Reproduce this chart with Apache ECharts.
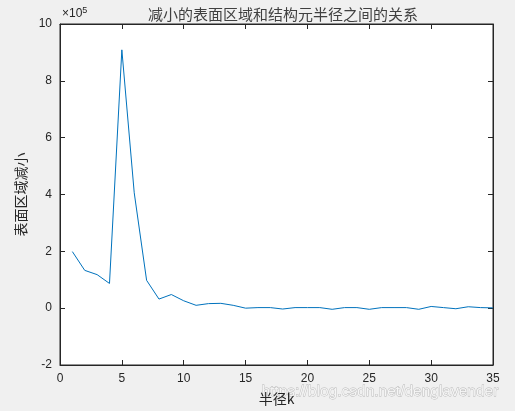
<!DOCTYPE html>
<html>
<head>
<meta charset="utf-8">
<script src="https://cdn.jsdelivr.net/npm/echarts@6/dist/echarts.min.js"></script>
<style>
  html, body { margin: 0; padding: 0; background: #f0f0f0; }
  #chart { width: 515px; height: 411px; }
</style>
</head>
<body>
<div id="chart"></div>
<script>
// 半径 k
var radius = [1, 2, 3, 4, 5, 6, 7, 8, 9, 10, 11, 12, 13, 14, 15, 16, 17, 18,
  19, 20, 21, 22, 23, 24, 25, 26, 27, 28, 29, 30, 31, 32, 33, 34, 35];
// 表面区域减小
var reduced = [199000, 133000, 118000, 87000, 909000, 406000, 98000, 32000, 48000, 26000,
  10000, 16000, 17000, 10000, 0, 2000, 2000, -3000, 2000, 2000,
  2000, -4000, 2000, 2000, -4000, 2000, 2000, 2000, -4000, 6000,
  2000, -2000, 5000, 2000, 1000];

var chart = echarts.init(document.getElementById('chart'));

var tickStyle = { color: '#262626', width: 1 };
var labelStyle = { color: '#262626', fontSize: 12, fontFamily: 'Liberation Sans, Arial, sans-serif' };

var option = {
  backgroundColor: '#f0f0f0',
  animation: false,
  title: {
    text: '减小的表面区域和结构元半径之间的关系',
    left: 143,
    top: 2,
    textStyle: { color: '#404040', fontSize: 15, fontWeight: 'normal', fontFamily: 'Noto Sans CJK SC' }
  },
  grid: { left: 60, right: 22, top: 24, bottom: 45, backgroundColor: '#fff', show: true,
    borderWidth: 1, borderColor: '#262626' },
  xAxis: [{
    type: 'value',
    min: 0, max: 35, interval: 5,
    name: '半径k',
    nameLocation: 'middle',
    nameGap: 27,
    nameTextStyle: { color: '#262626', fontSize: 14, fontFamily: 'Noto Sans CJK SC' },
    axisLine: { show: true, onZero: false, lineStyle: tickStyle },
    axisTick: { inside: true, length: 5, lineStyle: tickStyle },
    axisLabel: labelStyle,
    splitLine: { show: false }
  }, {
    type: 'value',
    position: 'top',
    min: 0, max: 35, interval: 5,
    axisLine: { show: true, onZero: false, lineStyle: tickStyle },
    axisTick: { inside: true, length: 5, lineStyle: tickStyle },
    axisLabel: { show: false },
    splitLine: { show: false }
  }],
  yAxis: [{
    type: 'value',
    min: -200000, max: 1000000, interval: 200000,
    name: '表面区域减小',
    nameLocation: 'middle',
    nameGap: 23,
    nameTextStyle: { color: '#262626', fontSize: 14, fontFamily: 'Noto Sans CJK SC' },
    axisLine: { show: true, onZero: false, lineStyle: tickStyle },
    axisTick: { show: true, inside: true, length: 5, lineStyle: tickStyle },
    axisLabel: Object.assign({
      margin: 8,
      formatter: function (v) { return String(Math.round(v / 100000)); }
    }, labelStyle),
    splitLine: { show: false }
  }, {
    type: 'value',
    position: 'right',
    min: -200000, max: 1000000, interval: 200000,
    axisLine: { show: true, onZero: false, lineStyle: tickStyle },
    axisTick: { show: true, inside: true, length: 5, lineStyle: tickStyle },
    axisLabel: { show: false },
    splitLine: { show: false }
  }],
  graphic: [{
    type: 'text',
    left: 62, top: 6,
    style: {
      text: '×10{s|5}',
      fill: '#262626',
      font: '12px Liberation Sans, Arial, sans-serif',
      rich: { s: { fontSize: 9, verticalAlign: 'top', padding: [0, 0, 6, 0] } }
    }
  }, {
    type: 'text',
    left: 261, top: 383,
    style: {
      text: 'https://blog.csdn.net/denglavender',
      fill: 'rgba(248,248,248,0.9)',
      stroke: 'rgba(160,160,160,0.7)',
      lineWidth: 0.8,
      font: '15.5px Liberation Sans, Arial, sans-serif'
    }
  }],
  series: [{
    type: 'line',
    xAxisIndex: 0,
    yAxisIndex: 0,
    data: radius.map(function (r, i) { return [r, reduced[i]]; }),
    showSymbol: false,
    lineStyle: { color: '#0072bd', width: 1 },
    itemStyle: { color: '#0072bd' }
  }]
};

chart.setOption(option);
</script>
</body>
</html>
